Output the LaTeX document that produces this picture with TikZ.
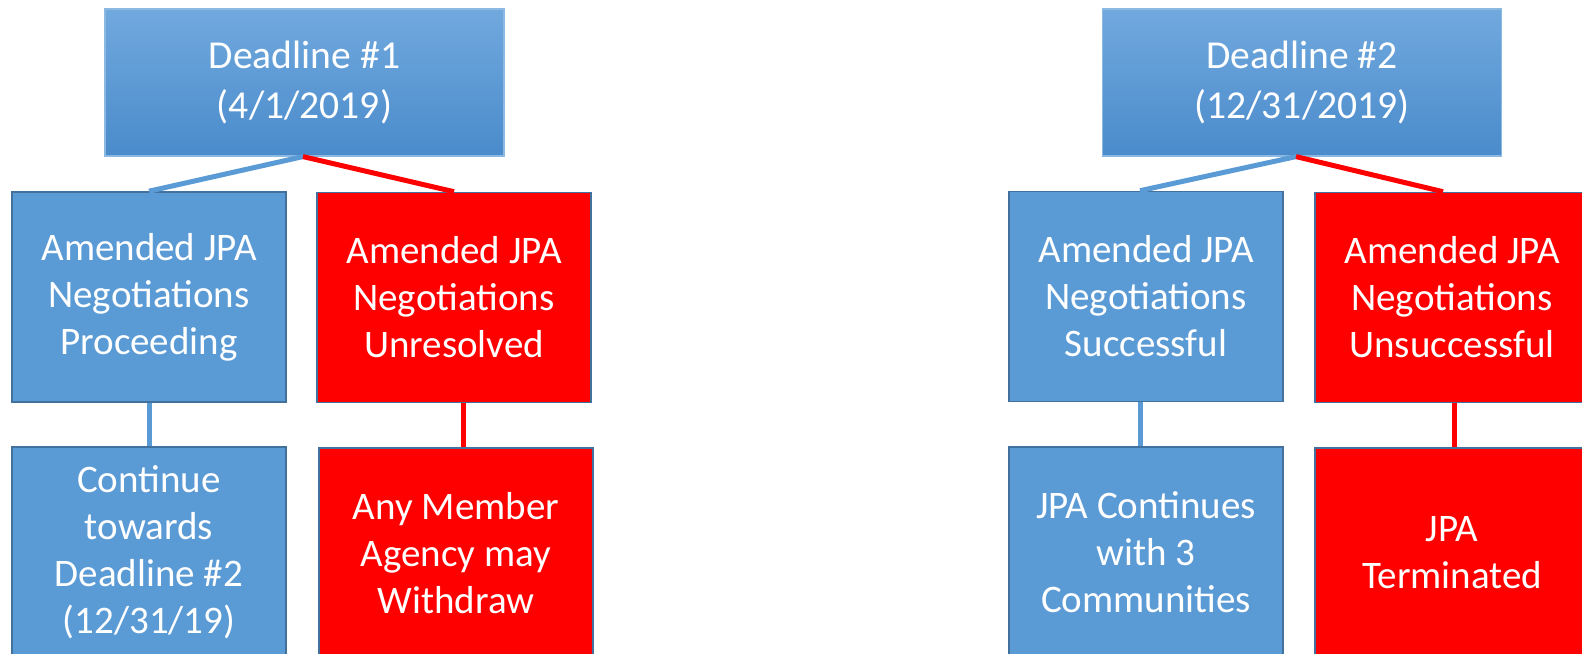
\documentclass[tikz,border=0pt]{standalone}
\usepackage{fontspec}
\setmainfont{Carlito}
\usepackage{tikz}
\usetikzlibrary{
  calc,        % coordinate shifts
  positioning  % relative placement
}
\definecolor{boxblue}{HTML}{5B9BD5}
\definecolor{edgeblue}{HTML}{41719C}
\definecolor{gradtop}{HTML}{71A9DE}
\definecolor{gradbot}{HTML}{4A8BCB}
\definecolor{boxred}{HTML}{FF0000}
\tikzset{
  deadline box/.style={
    rectangle,
    draw=boxblue!70!white,
    line width=0.6pt,
    top color=gradtop,
    bottom color=gradbot,
    text=white,
    align=center,
    inner sep=0pt,
    minimum width=199.5pt,
    minimum height=73.5pt,
    font=\fontsize{19.8}{25}\selectfont
  },
  good box/.style={
    rectangle,
    draw=edgeblue,
    line width=0.8pt,
    fill=boxblue,
    text=white,
    align=center,
    inner sep=0pt,
    minimum width=137pt,
    minimum height=105pt,
    font=\fontsize{19.5}{23.5}\selectfont
  },
  bad box/.style={
    good box,
    fill=boxred
  },
  good link/.style={
    boxblue,
    line width=2.5pt
  },
  bad link/.style={
    boxred,
    line width=2.5pt
  }
}

\begin{document}
\begin{tikzpicture}[x=0.5pt, y=-0.5pt]
    \useasboundingbox (0,0) rectangle (1582,653);
    \clip (0,0) rectangle (1582,653);

    % 1. first deadline
    \node[deadline box] (dl1) at (304.5, 82.5) {Deadline \#1\\(4/1/2019)};
    \node[good box] (proceed) at (149, 297) {Amended JPA\\Negotiations\\Proceeding};
    \node[bad box] (unresolved) at (454, 297.5) {Amended JPA\\Negotiations\\Unresolved};
    \node[good box] (towards) at (149, 552) {Continue\\towards\\Deadline \#2\\(12/31/19)};
    \node[bad box] (withdraw) at (456, 553) {Any Member\\Agency may\\Withdraw};

    \draw[good link] ([xshift=-0.75pt]dl1.south) -- (proceed.north);
    \draw[bad link] ([xshift=-0.75pt]dl1.south) -- (unresolved.north);
    \draw[good link] (proceed.south) -- (towards.north);
    \draw[bad link] ([xshift=4.5pt]unresolved.south) -- ([xshift=3.5pt]withdraw.north);

    % 2. second deadline
    \node[deadline box] (dl2) at (1302, 82.5) {Deadline \#2\\(12/31/2019)};
    \node[good box] (success) at (1146, 296.5) {Amended JPA\\Negotiations\\Successful};
    \node[bad box] (fail) at (1452, 297.5) {Amended JPA\\Negotiations\\Unsuccessful};
    \node[good box] (three) at (1146, 552) {JPA Continues\\with 3\\Communities};
    \node[bad box] (ended) at (1452, 553) {JPA\\Terminated};

    \draw[good link] ([xshift=-3pt]dl2.south) -- ([xshift=-3pt]success.north);
    \draw[bad link] ([xshift=-3pt]dl2.south) -- ([xshift=-4.5pt]fail.north);
    \draw[good link] ([xshift=-3pt]success.south) -- ([xshift=-3pt]three.north);
    \draw[bad link] ([xshift=1pt]fail.south) -- ([xshift=1pt]ended.north);

  \end{tikzpicture}
\end{document}
